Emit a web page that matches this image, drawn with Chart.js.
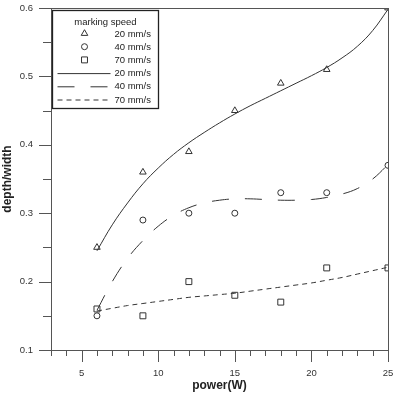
<!DOCTYPE html>
<html><head><meta charset="utf-8">
<script src="https://cdn.jsdelivr.net/npm/chart.js@4/dist/chart.umd.min.js"></script>
<style>html,body{margin:0;padding:0;background:#fff;}canvas{display:block;}</style>
</head><body>
<canvas id="c" width="396" height="399"></canvas>
<script>
// measured points
const powerW = [6, 9, 12, 15, 18, 21, 25];
const ratio20 = [0.25, 0.36, 0.39, 0.45, 0.49, 0.51, 0.60];
const ratio40 = [0.15, 0.29, 0.30, 0.30, 0.33, 0.33, 0.37];
const ratio70 = [0.16, 0.15, 0.20, 0.18, 0.17, 0.22, 0.22];
// fitted curves
const fitPower = [6, 7, 8, 9, 10, 11, 12, 13, 14, 15, 16, 17, 18, 19, 20, 21, 22, 23, 24, 25];
const fit20 = [0.245, 0.283, 0.315, 0.343, 0.366, 0.386, 0.403, 0.418, 0.432, 0.445, 0.457, 0.468, 0.479, 0.490, 0.501, 0.513, 0.527, 0.544, 0.567, 0.598];
const fit40 = [0.158, 0.200, 0.234, 0.260, 0.281, 0.297, 0.308, 0.315, 0.319, 0.321, 0.321, 0.320, 0.319, 0.319, 0.320, 0.323, 0.328, 0.336, 0.350, 0.371];
const fit70 = [0.157, 0.161, 0.165, 0.168, 0.171, 0.174, 0.177, 0.179, 0.181, 0.183, 0.186, 0.189, 0.192, 0.195, 0.198, 0.202, 0.206, 0.211, 0.216, 0.221];
const seriesLabels = ['20 mm/s', '40 mm/s', '70 mm/s'];
const legendTitle = 'marking speed';
const xTitle = 'power(W)';
const yTitle = 'depth/width';
const xMajorTicks = [5, 10, 15, 20, 25];
const xMinorTicks = [3, 4, 6, 7, 8, 9, 11, 12, 13, 14, 16, 17, 18, 19, 21, 22, 23, 24];
const yMajorTicks = [0.1, 0.2, 0.3, 0.4, 0.5, 0.6];
const yMinorTicks = [0.15, 0.25, 0.35, 0.45, 0.55];

const INK = '#333';
const AXIS = '#555';
const toXY = (xs, ys) => xs.map((x, i) => ({x: x, y: ys[i]}));

const markerDS = (label, xs, ys, style, r) => ({
  label, data: toXY(xs, ys), showLine: false, pointStyle: style, pointRadius: r,
  pointBorderColor: INK, pointBackgroundColor: 'rgba(0,0,0,0)', pointBorderWidth: 1,
  pointHoverRadius: r, isMarker: true
});
const lineDS = (label, xs, ys, dash) => ({
  label, data: toXY(xs, ys), showLine: true, pointRadius: 0, pointHoverRadius: 0,
  borderColor: INK, borderWidth: 1, borderDash: dash, tension: 0.4, fill: false, isMarker: false
});

function drawMarker(ctx, style, r, x, y) {
  ctx.beginPath();
  if (style === 'triangle') {
    for (let k = 0; k < 3; k++) {
      const a = k * 2 * Math.PI / 3;
      const px = x + Math.sin(a) * r, py = y - Math.cos(a) * r;
      k ? ctx.lineTo(px, py) : ctx.moveTo(px, py);
    }
    ctx.closePath();
  } else if (style === 'circle') {
    ctx.arc(x, y, r, 0, 2 * Math.PI);
  } else {
    const s = Math.SQRT1_2 * r;
    ctx.rect(x - s, y - s, 2 * s, 2 * s);
  }
  ctx.stroke();
}

const framePlugin = {
  id: 'frame',
  afterDraw(chart) {
    const {ctx, chartArea: a, scales: {x, y}} = chart;
    ctx.save();
    ctx.strokeStyle = AXIS; ctx.lineWidth = 1;
    ctx.strokeRect(a.left + 0.5, a.top + 0.5, a.right - a.left, a.bottom - a.top);
    const line = (x1, y1, x2, y2) => { ctx.beginPath(); ctx.moveTo(x1, y1); ctx.lineTo(x2, y2); ctx.stroke(); };
    line(a.left + 0.5, a.bottom, a.left + 0.5, a.bottom + 6);
    xMajorTicks.concat(xMinorTicks).forEach(v => {
      const p = Math.round(x.getPixelForValue(v)) + 0.5;
      line(p, a.bottom + 0.5, p, a.bottom + (xMajorTicks.includes(v) ? 12 : 6));
    });
    yMajorTicks.concat(yMinorTicks).forEach(v => {
      const p = Math.round(y.getPixelForValue(v)) + 0.5;
      line(a.left + 0.5, p, a.left - (yMajorTicks.includes(v) ? 12 : 8), p);
    });
    // legend
    const L = a.left + 1.5, T = a.top + 2.5, W = 106, H = 98;
    ctx.strokeStyle = '#222'; ctx.lineWidth = 1.3;
    ctx.strokeRect(L, T, W, H);
    ctx.fillStyle = '#222';
    ctx.font = '9.5px "Liberation Sans", Arial, sans-serif';
    ctx.textBaseline = 'middle';
    ctx.textAlign = 'center';
    ctx.fillText(legendTitle, L + 53, T + 12);
    ctx.textAlign = 'left';
    const rows = chart.data.datasets;
    rows.forEach((ds, i) => {
      const cy = T + 23 + i * 13.2;
      ctx.strokeStyle = INK; ctx.lineWidth = 1;
      if (ds.isMarker) {
        ctx.setLineDash([]);
        drawMarker(ctx, ds.pointStyle, ds.pointRadius, L + 32, cy);
      } else {
        ctx.setLineDash(ds.borderDash || []);
        line(L + 5, cy + 0.5, L + 58, cy + 0.5);
        ctx.setLineDash([]);
      }
      ctx.fillText(ds.label, L + 62, cy + 0.5);
    });
    ctx.restore();
  }
};

const zeroPad = s => { s.paddingTop = 0; s.paddingBottom = 0; s.paddingLeft = 0; s.paddingRight = 0; };

new Chart(document.getElementById('c'), {
  type: 'scatter',
  data: {
    datasets: [
      markerDS(seriesLabels[0], powerW, ratio20, 'triangle', 3.8),
      markerDS(seriesLabels[1], powerW, ratio40, 'circle', 3),
      markerDS(seriesLabels[2], powerW, ratio70, 'rect', 4.2),
      lineDS(seriesLabels[0], fitPower, fit20, []),
      lineDS(seriesLabels[1], fitPower, fit40, [17, 16]),
      lineDS(seriesLabels[2], fitPower, fit70, [5, 4])
    ]
  },
  options: {
    responsive: false, animation: false, devicePixelRatio: 1,
    layout: {padding: {top: 8, right: 8, left: 0, bottom: 0}},
    plugins: {legend: {display: false}, tooltip: {enabled: false}},
    scales: {
      x: {
        type: 'linear', min: 3, max: 25,
        afterBuildTicks: s => { s.ticks = xMajorTicks.map(v => ({value: v})); },
        afterFit: s => { s.height = 49; zeroPad(s); },
        grid: {display: false, drawTicks: false},
        border: {display: false},
        ticks: {padding: 18, color: INK, font: {family: '"Liberation Sans", Arial, sans-serif', size: 9.5}, maxRotation: 0, callback: v => String(v)},
        title: {display: true, text: xTitle, color: '#222', font: {family: '"Liberation Sans", Arial, sans-serif', size: 12, weight: 'bold'}, padding: {top: 0, bottom: 6}}
      },
      y: {
        type: 'linear', min: 0.1, max: 0.6,
        afterBuildTicks: s => { s.ticks = yMajorTicks.map(v => ({value: v})); },
        afterFit: s => { s.width = 51; zeroPad(s); },
        grid: {display: false, drawTicks: false},
        border: {display: false},
        ticks: {padding: 18, color: INK, font: {family: '"Liberation Sans", Arial, sans-serif', size: 9.5}, callback: v => Number(v).toFixed(1)},
        title: {display: true, text: yTitle, color: '#222', font: {family: '"Liberation Sans", Arial, sans-serif', size: 12, weight: 'bold'}, padding: {top: 0, bottom: 0}}
      }
    }
  },
  plugins: [framePlugin]
});
</script>
</body></html>
